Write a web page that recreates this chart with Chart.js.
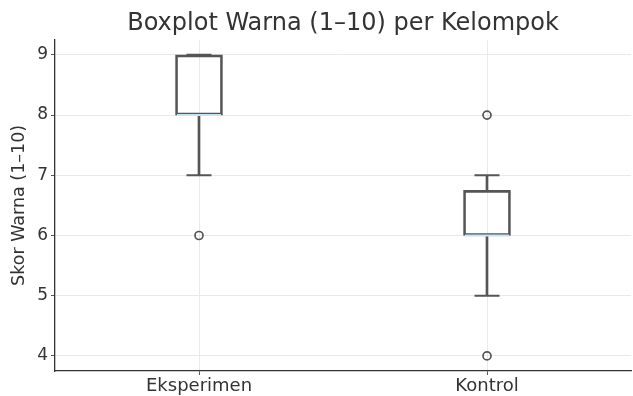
<!DOCTYPE html>
<html>
<head>
<meta charset="utf-8">
<script src="https://cdn.jsdelivr.net/npm/chart.js@4.4.1/dist/chart.umd.min.js"></script>
<style>
  html, body { margin: 0; padding: 0; background: #ffffff; }
  #wrap { width: 633px; height: 396px; position: relative; }
</style>
</head>
<body>
<div id="wrap"><canvas id="chart"></canvas></div>
<script>
// Colour score summary (1–10) per group
const groups = ['Eksperimen', 'Kontrol'];
const q1 = [8, 6];
const median = [8, 6];
const q3 = [9, 6.75];
const whiskerLow = [7, 5];
const whiskerHigh = [9, 7];
const outliers = [[6], [8, 4]];
const yTicks = [4, 5, 6, 7, 8, 9];

const EDGE = '#555555';
const FONT = "'DejaVu Sans', 'Liberation Sans', sans-serif";

const boxData = groups.map((g, i) => [q1[i], q3[i]]);
const lowWhisker = groups.map((g, i) => [whiskerLow[i], q1[i]]);
const highWhisker = groups.map((g, i) => [q3[i], whiskerHigh[i]]);
const caps = [];
groups.forEach((g, i) => {
  caps.push({ x: g, y: whiskerLow[i] });
  caps.push({ x: g, y: whiskerHigh[i] });
});
const medians = groups.map((g, i) => ({ x: g, y: median[i] }));
const fliers = [];
groups.forEach((g, i) => outliers[i].forEach(v => fliers.push({ x: g, y: v })));

new Chart(document.getElementById('chart'), {
  type: 'bar',
  data: {
    labels: groups,
    datasets: [
      {
        label: 'whisker-low', data: lowWhisker, grouped: false, order: 5,
        barThickness: 2, backgroundColor: EDGE, borderWidth: 0
      },
      {
        label: 'whisker-high', data: highWhisker, grouped: false, order: 5,
        barThickness: 2, backgroundColor: EDGE, borderWidth: 0
      },
      {
        label: 'box', data: boxData, grouped: false, order: 4,
        barThickness: 47, backgroundColor: 'rgba(255,255,255,0)',
        borderColor: EDGE, borderWidth: 2, borderSkipped: false
      },
      {
        type: 'line', label: 'caps', data: caps, showLine: false, order: 3,
        pointStyle: 'line', pointRadius: 12.5, pointBorderWidth: 2,
        pointBorderColor: EDGE, borderColor: EDGE
      },
      {
        type: 'line', label: 'median', data: medians, showLine: false, order: 1,
        pointStyle: 'line', pointRadius: 22, pointBorderWidth: 2,
        pointBorderColor: '#c2e4f4', borderColor: '#c2e4f4'
      },
      {
        type: 'line', label: 'outliers', data: fliers, showLine: false, order: 2,
        pointStyle: 'circle', pointRadius: 4, pointBorderWidth: 1.7,
        pointBorderColor: EDGE, pointBackgroundColor: 'rgba(255,255,255,0)'
      }
    ]
  },
  options: {
    responsive: true,
    maintainAspectRatio: false,
    animation: false,
    events: [],
    layout: { autoPadding: false, padding: { left: 0, right: 2, top: 0, bottom: 0 } },
    plugins: {
      legend: { display: false },
      tooltip: { enabled: false },
      title: {
        display: true,
        text: 'Boxplot Warna (1–10) per Kelompok',
        fullSize: false,
        color: '#333333',
        font: { family: FONT, size: 24, weight: 'normal' },
        padding: { top: 9, bottom: 2 }
      }
    },
    scales: {
      x: {
        type: 'category',
        offset: true,
        grid: { offset: false, color: '#e9e9e9', lineWidth: 1, tickColor: EDGE, tickLength: 4 },
        border: { color: '#333333', width: 1.3 },
        ticks: { color: '#333333', padding: 1, font: { family: FONT, size: 18 } },
        afterFit: s => { s.height = 25; s.paddingLeft = 0; s.paddingRight = 0; }
      },
      y: {
        type: 'linear',
        min: 3.75,
        max: 9.25,
        afterBuildTicks: s => { s.ticks = yTicks.map(v => ({ value: v })); },
        grid: { color: '#e9e9e9', lineWidth: 1, tickColor: EDGE, tickLength: 4 },
        border: { color: '#333333', width: 1.3 },
        ticks: { color: '#333333', padding: 3, font: { family: FONT, size: 17 } },
        title: {
          display: true,
          text: 'Skor Warna (1–10)',
          color: '#333333',
          font: { family: FONT, size: 17.5 },
          padding: { top: 9, bottom: 0 }
        },
        afterFit: s => { s.width = 55; s.paddingTop = 0; s.paddingBottom = 0; }
      }
    }
  }
});
</script>
</body>
</html>
